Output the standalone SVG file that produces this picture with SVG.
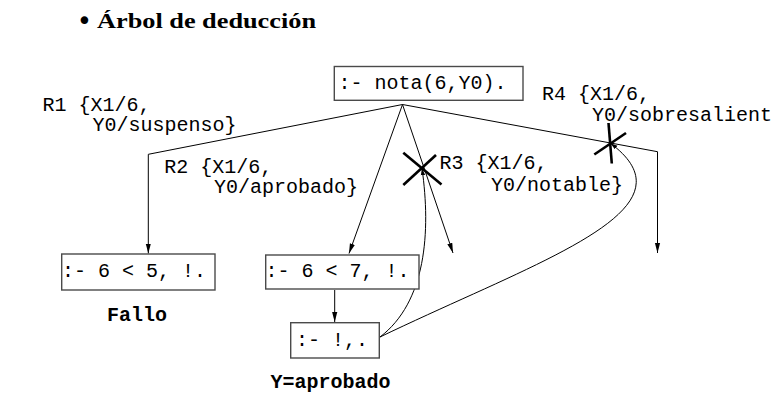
<svg xmlns="http://www.w3.org/2000/svg" width="771" height="412" viewBox="0 0 771 412">
<style>
.mono{font-family:"Liberation Mono","DejaVu Sans Mono",monospace;font-size:20px;fill:#000}
.bold{font-weight:bold}
.box{fill:#fff;stroke:#4a4a4a;stroke-width:1.4}
.ln{fill:none;stroke:#000;stroke-width:1}
.cross{fill:none;stroke:#000;stroke-width:2.6}
</style>
<defs>
<marker id="arr" markerUnits="userSpaceOnUse" markerWidth="11" markerHeight="7" refX="10" refY="3" orient="auto">
<path d="M0,0.4 L10,3 L0,5.6 z" fill="#000"/>
</marker>
<marker id="arrs" markerUnits="userSpaceOnUse" markerWidth="8" markerHeight="6" refX="7" refY="2.5" orient="auto">
<path d="M0,0.3 L7,2.5 L0,4.7 z" fill="#000"/>
</marker>
</defs>
<g id="title">
<text x="84.5" y="30" text-anchor="middle" style="font-family:'DejaVu Sans',sans-serif;font-size:26px">•</text>
<text x="97" y="27.5" textLength="219" lengthAdjust="spacingAndGlyphs" style="font-family:'Liberation Serif',serif;font-size:21.5px;font-weight:bold">Árbol de deducción</text>
</g>
<g id="connectors">
<polyline class="ln" points="402.5,104.5 148.3,154.3 148.3,253.5" marker-end="url(#arr)"/>
<line class="ln" x1="402.5" y1="104.5" x2="349" y2="253.5" marker-end="url(#arr)"/>
<line class="ln" x1="402.5" y1="104.5" x2="453" y2="253" marker-end="url(#arr)"/>
<polyline class="ln" points="402.5,104.5 657.5,151.7 657.5,253" marker-end="url(#arr)"/>
<line class="ln" x1="334.7" y1="290" x2="334.7" y2="322" marker-end="url(#arr)"/>
<path class="ln" d="M380,337 C426,302 431,232 422,168.3" marker-end="url(#arrs)"/>
<path class="ln" d="M380,337 C540,260 700,210 610.5,143.3" marker-end="url(#arrs)"/>
<g id="cut-r3">
<line class="cross" x1="403.3" y1="152.7" x2="441.5" y2="184.5"/>
<line class="cross" x1="403.3" y1="185" x2="436" y2="155"/>
</g>
<g id="cut-r4">
<line class="cross" x1="608.5" y1="123" x2="611.8" y2="163.5"/>
<line class="cross" x1="594.3" y1="154.5" x2="626" y2="133"/>
</g>
</g>
<g id="root">
<rect class="box" x="334.3" y="66.5" width="188.7" height="33.8"/>
<text class="mono" x="338.6" y="89">:- nota(6,Y0).</text>
</g>
<g id="label-r1">
<text class="mono" x="42.5" y="111">R1 {X1/6,</text>
<text class="mono" x="92.5" y="130.5">Y0/suspenso}</text>
</g>
<g id="label-r2">
<text class="mono" x="164.2" y="172.7">R2 {X1/6,</text>
<text class="mono" x="214" y="193.3">Y0/aprobado}</text>
</g>
<g id="label-r3">
<text class="mono" x="439.5" y="169.3">R3 {X1/6,</text>
<text class="mono" x="491" y="190.7">Y0/notable}</text>
</g>
<g id="label-r4">
<text class="mono" x="542" y="100">R4 {X1/6,</text>
<text class="mono" x="592" y="121">Y0/sobresalient</text>
</g>
<g id="node-fail">
<rect class="box" x="61.7" y="254" width="153.3" height="36"/>
<text class="mono" x="62" y="277.3">:- 6 &lt; 5, !.</text>
<text class="mono bold" x="107" y="321">Fallo</text>
</g>
<g id="node-ok">
<rect class="box" x="265.7" y="255" width="153.3" height="34"/>
<text class="mono" x="265.5" y="277">:- 6 &lt; 7, !.</text>
</g>
<g id="node-cut">
<rect class="box" x="290.7" y="322.7" width="88.6" height="35.3"/>
<text class="mono" x="296" y="346">:- !,.</text>
<text class="mono bold" x="270.5" y="388">Y=aprobado</text>
</g>
</svg>
